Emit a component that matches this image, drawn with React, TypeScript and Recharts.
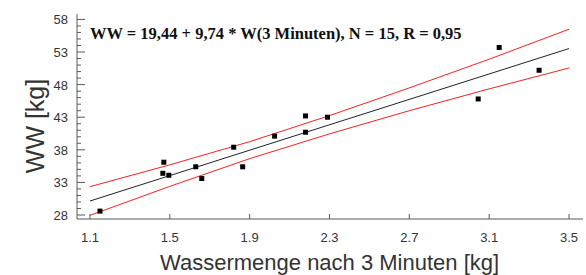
import { ScatterChart, Scatter, XAxis, YAxis } from 'recharts'

// measured points: water after 3 min (kg) vs WW (kg)
const wasser = [1.15, 1.47, 1.465, 1.495, 1.63, 1.66, 1.82, 1.865, 2.025, 2.18, 2.18, 2.29, 3.045, 3.15, 3.35]
const ww = [28.6, 36.1, 34.4, 34.1, 35.4, 33.6, 38.4, 35.4, 40.1, 40.7, 43.2, 43.0, 45.8, 53.7, 50.2]

// fit line WW = 19,44 + 9,74 * W and the confidence band around it
const fitX = [1.1, 3.5]
const fitY = [30.15, 53.53]
const bandX = [1.1, 1.5, 1.9, 2.3, 2.7, 3.1, 3.5]
const bandUpper = [32.35, 35.7, 39.25, 43.25, 47.5, 51.9, 56.5]
const bandLower = [27.95, 32.4, 36.65, 40.45, 44.0, 47.35, 50.55]

const xTicks = [1.1, 1.5, 1.9, 2.3, 2.7, 3.1, 3.5]
const yMajor = [28, 33, 38, 43, 48, 53, 58]
const yMinor = [28, 29, 30, 31, 32, 33, 34, 35, 36, 37, 38, 39, 40, 41, 42, 43, 44, 45, 46, 47, 48, 49, 50, 51, 52, 53, 54, 55, 56, 57, 58]

const points = wasser.map((x, i) => ({ x, y: ww[i] }))
const fit = fitX.map((x, i) => ({ x, y: fitY[i] }))
const upper = bandX.map((x, i) => ({ x, y: bandUpper[i] }))
const lower = bandX.map((x, i) => ({ x, y: bandLower[i] }))

const frame = '#5a5a5a'
const labelColor = '#333'
const font = '"Liberation Sans", Arial, sans-serif'

const Square = (p: any) => <rect x={p.cx - 2.5} y={p.cy - 2.5} width={5} height={5} fill="#000" />
const NoDot = () => <g />

const LeftTick = (p: any) => {
  const major = yMajor.includes(p.payload.value)
  return (
    <g>
      <line x1={p.x} x2={p.x + (major ? 8 : 4)} y1={p.y} y2={p.y} stroke={frame} />
      {major && (
        <text x={p.x - 9} y={p.y} dy={5} textAnchor="end" fontSize={13} fill={labelColor} fontFamily={font}>
          {p.payload.value}
        </text>
      )}
    </g>
  )
}

const RightTick = (p: any) => {
  const major = yMajor.includes(p.payload.value)
  return <line x1={p.x} x2={p.x - (major ? 8 : 4)} y1={p.y} y2={p.y} stroke={frame} />
}

const BottomTick = (p: any) => (
  <g>
    <line x1={p.x} x2={p.x} y1={p.y} y2={p.y - 5} stroke={frame} />
    <text x={p.x} y={p.y} dy={23} textAnchor="middle" fontSize={13} fill={labelColor} fontFamily={font}>
      {p.payload.value.toFixed(1)}
    </text>
  </g>
)

const TopTick = (p: any) => <line x1={p.x} x2={p.x} y1={p.y} y2={p.y + 5} stroke={frame} />

export default function App() {
  return (
    <div style={{ position: 'absolute', left: 0, top: 0, width: 586, height: 275, background: '#fff' }}>
      <ScatterChart width={586} height={275} margin={{ top: 14, right: 3, bottom: 26, left: 0 }}>
        <XAxis dataKey="x" type="number" xAxisId="b" domain={[1.035, 3.57]} ticks={xTicks} allowDataOverflow
          height={30} tickSize={0} tickMargin={0} axisLine={{ stroke: frame }} tick={BottomTick} interval={0} />
        <XAxis dataKey="x" type="number" xAxisId="t" orientation="top" domain={[1.035, 3.57]} ticks={xTicks} allowDataOverflow
          height={0} tickSize={0} tickMargin={0} axisLine={{ stroke: frame }} tick={TopTick} interval={0} />
        <YAxis dataKey="y" type="number" yAxisId="l" domain={[27.39, 58.83]} ticks={yMinor} allowDataOverflow
          width={77} tickSize={0} tickMargin={0} axisLine={{ stroke: frame }} tick={LeftTick} interval={0} />
        <YAxis dataKey="y" type="number" yAxisId="r" orientation="right" domain={[27.39, 58.83]} ticks={yMinor} allowDataOverflow
          width={0} tickSize={0} tickMargin={0} axisLine={{ stroke: frame }} tick={RightTick} interval={0} />
        <Scatter data={upper} xAxisId="b" yAxisId="l" line={{ stroke: '#ff2020', strokeWidth: 1 }} shape={NoDot} isAnimationActive={false} />
        <Scatter data={lower} xAxisId="b" yAxisId="l" line={{ stroke: '#ff2020', strokeWidth: 1 }} shape={NoDot} isAnimationActive={false} />
        <Scatter data={fit} xAxisId="b" yAxisId="l" line={{ stroke: '#222', strokeWidth: 1 }} shape={NoDot} isAnimationActive={false} />
        <Scatter data={points} xAxisId="b" yAxisId="l" shape={Square} isAnimationActive={false} />
      </ScatterChart>
      <div style={{ position: 'absolute', left: 90, top: 24, fontFamily: '"Liberation Serif", "Times New Roman", serif', fontWeight: 'bold', fontSize: 16.5, color: '#111', whiteSpace: 'nowrap' }}>
        WW = 19,44 + 9,74 * W(3 Minuten), N = 15, R = 0,95
      </div>
      <div style={{ position: 'absolute', left: 160, top: 250, fontFamily: font, fontSize: 22, color: labelColor, whiteSpace: 'nowrap' }}>
        Wassermenge nach 3 Minuten [kg]
      </div>
      <div style={{ position: 'absolute', left: 35, top: 126, transform: 'translate(-50%, -50%) rotate(-90deg)', fontFamily: font, fontSize: 25, color: labelColor, whiteSpace: 'nowrap' }}>
        WW [kg]
      </div>
    </div>
  )
}
